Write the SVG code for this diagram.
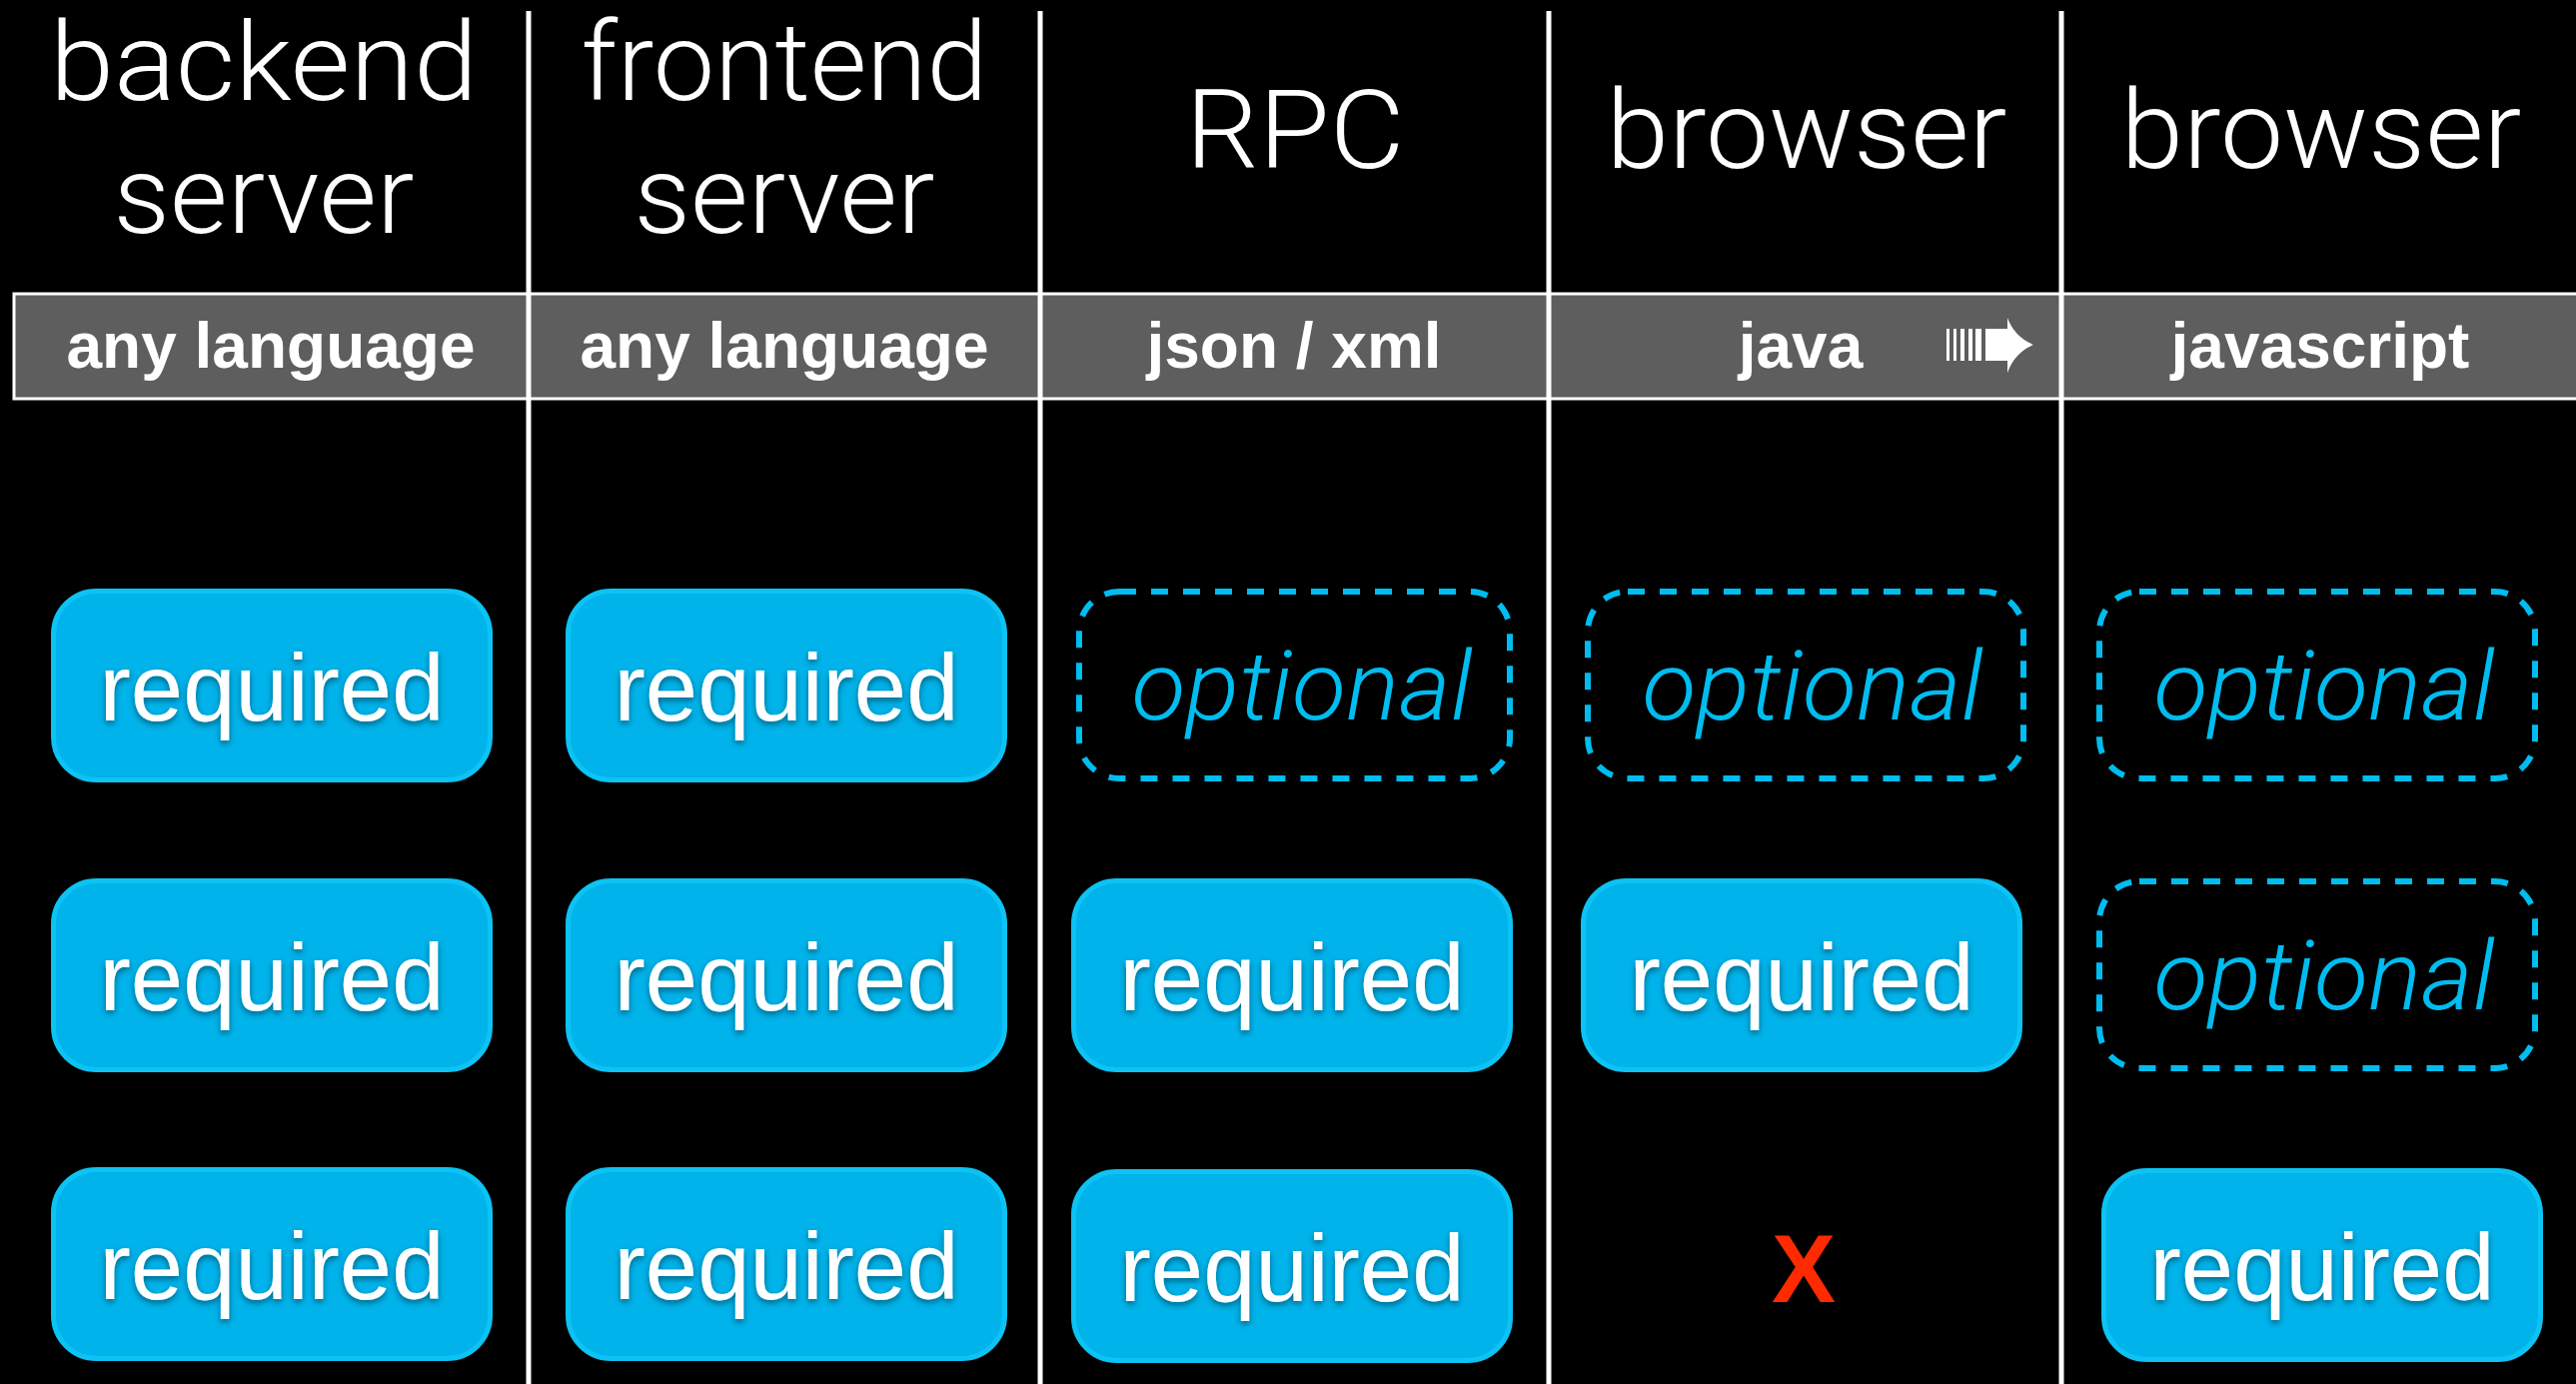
<svg xmlns="http://www.w3.org/2000/svg" width="2578" height="1385" viewBox="0 0 2578 1385">
<defs>
<filter id="sh" x="-10%" y="-20%" width="120%" height="150%">
<feDropShadow dx="0" dy="3" stdDeviation="3" flood-color="#000" flood-opacity="0.45"/>
</filter>
</defs>
<style>
.hdr{font-family:Roboto,"Liberation Sans",sans-serif;font-weight:300;font-size:110px;fill:#fff;text-anchor:middle}
.bar{font-family:"Liberation Sans",Arial,sans-serif;font-weight:bold;font-size:64px;fill:#fff;text-anchor:middle}
.req rect{fill:#00b3eb;stroke:#0cc3f4;stroke-width:5}
.req text{font-family:"Liberation Sans",Arial,sans-serif;font-size:94px;fill:#fff;text-anchor:middle;filter:url(#sh)}
.opt rect{fill:none;stroke:#00bcef;stroke-width:6;stroke-dasharray:17 15}
.opt text{font-family:Roboto,"Liberation Sans",sans-serif;font-weight:300;font-style:italic;font-size:97px;fill:#00bcef;text-anchor:middle}
.vline{stroke:#fff;stroke-width:5}
.x{font-family:"Liberation Sans",Arial,sans-serif;font-weight:bold;font-size:96px;fill:#ff2a00;text-anchor:middle}
</style>
<rect x="0" y="0" width="2578" height="1385" fill="#000"/>

<g id="bar">
<rect x="14" y="294" width="2570" height="105" fill="#5e5e5e" stroke="#fff" stroke-width="3"/>
</g>

<g id="dividers">
<line class="vline" x1="529" y1="11" x2="529" y2="1385"/>
<line class="vline" x1="1041" y1="11" x2="1041" y2="1385"/>
<line class="vline" x1="1550" y1="11" x2="1550" y2="1385"/>
<line class="vline" x1="2063" y1="11" x2="2063" y2="1385"/>
</g>

<g id="col1-header">
<text class="hdr" x="264" y="100" textLength="428" lengthAdjust="spacingAndGlyphs">backend</text>
<text class="hdr" x="264" y="233" textLength="301" lengthAdjust="spacingAndGlyphs">server</text>
<text class="bar" x="271" y="368">any language</text>
</g>
<g id="col2-header">
<text class="hdr" x="785" y="100" textLength="407" lengthAdjust="spacingAndGlyphs">frontend</text>
<text class="hdr" x="785" y="233" textLength="301" lengthAdjust="spacingAndGlyphs">server</text>
<text class="bar" x="785" y="368">any language</text>
</g>
<g id="col3-header">
<text class="hdr" x="1296" y="168" textLength="219" lengthAdjust="spacingAndGlyphs">RPC</text>
<text class="bar" x="1295" y="368">json / xml</text>
</g>
<g id="col4-header">
<text class="hdr" x="1808" y="168" textLength="401" lengthAdjust="spacingAndGlyphs">browser</text>
<text class="bar" x="1802" y="368">java</text>
<g id="arrow-icon" fill="#fff">
<rect x="1948" y="329" width="3" height="32"/>
<rect x="1955" y="329" width="3" height="32"/>
<rect x="1962" y="329" width="4" height="32"/>
<rect x="1970" y="329" width="4" height="32"/>
<rect x="1977" y="329" width="6" height="32"/>
<rect x="1987" y="329" width="23" height="32"/>
<path d="M2009,318 Q2016,337 2035,345 Q2016,353 2009,373 Z"/>
</g>
</g>
<g id="col5-header">
<text class="hdr" x="2323" y="168" textLength="401" lengthAdjust="spacingAndGlyphs">browser</text>
<text class="bar" x="2322" y="368">javascript</text>
</g>

<g id="r1c1" class="req"><rect x="53.5" y="591.5" width="437" height="189" rx="43"/><text x="272" y="721">required</text></g>
<g id="r1c2" class="req"><rect x="568.5" y="591.5" width="437" height="189" rx="43"/><text x="787" y="721">required</text></g>
<g id="r1c3" class="opt"><rect x="1080" y="592" width="431" height="187" rx="40"/><text x="1303" y="720" textLength="341" lengthAdjust="spacingAndGlyphs">optional</text></g>
<g id="r1c4" class="opt"><rect x="1589" y="592" width="436" height="187" rx="40"/><text x="1814" y="720" textLength="341" lengthAdjust="spacingAndGlyphs">optional</text></g>
<g id="r1c5" class="opt"><rect x="2101" y="592" width="436" height="187" rx="40"/><text x="2326" y="720" textLength="341" lengthAdjust="spacingAndGlyphs">optional</text></g>

<g id="r2c1" class="req"><rect x="53.5" y="881.5" width="437" height="189" rx="43"/><text x="272" y="1011">required</text></g>
<g id="r2c2" class="req"><rect x="568.5" y="881.5" width="437" height="189" rx="43"/><text x="787" y="1011">required</text></g>
<g id="r2c3" class="req"><rect x="1074.5" y="881.5" width="437" height="189" rx="43"/><text x="1293" y="1011">required</text></g>
<g id="r2c4" class="req"><rect x="1584.5" y="881.5" width="437" height="189" rx="43"/><text x="1803" y="1011">required</text></g>
<g id="r2c5" class="opt"><rect x="2101" y="882" width="436" height="187" rx="40"/><text x="2326" y="1010" textLength="341" lengthAdjust="spacingAndGlyphs">optional</text></g>

<g id="r3c1" class="req"><rect x="53.5" y="1170.5" width="437" height="189" rx="43"/><text x="272" y="1300">required</text></g>
<g id="r3c2" class="req"><rect x="568.5" y="1170.5" width="437" height="189" rx="43"/><text x="787" y="1300">required</text></g>
<g id="r3c3" class="req"><rect x="1074.5" y="1172.5" width="437" height="189" rx="43"/><text x="1293" y="1302">required</text></g>
<g id="r3c4"><text class="x" x="1805" y="1303">X</text></g>
<g id="r3c5" class="req"><rect x="2105.5" y="1171.5" width="437" height="189" rx="43"/><text x="2324" y="1301">required</text></g>
</svg>
